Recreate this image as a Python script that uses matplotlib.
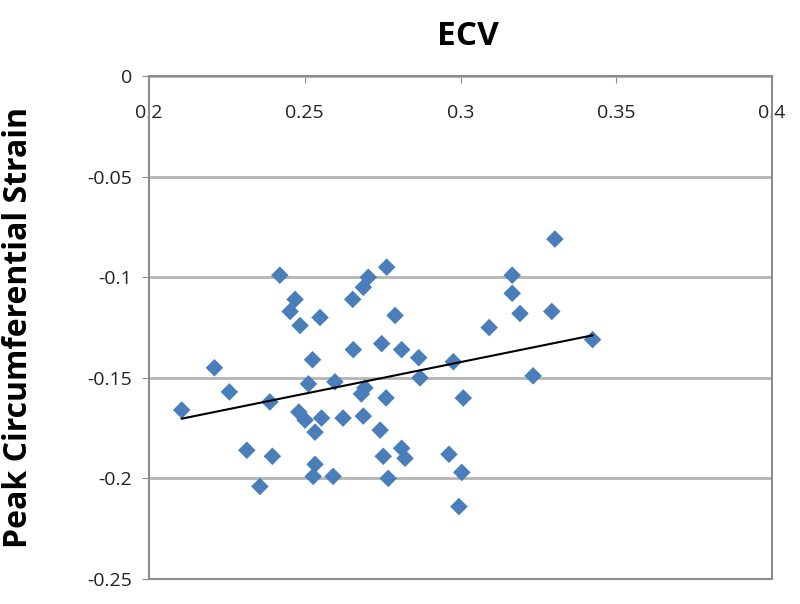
import numpy as np
import matplotlib
matplotlib.use("Agg")
import matplotlib.pyplot as plt

# ECV vs peak circumferential strain
ecv = [0.2105, 0.221, 0.2258, 0.2314, 0.2356, 0.2388, 0.2396, 0.242, 0.2469, 0.2453,
       0.2485, 0.2549, 0.2525, 0.2512, 0.2481, 0.2501, 0.2554, 0.2533, 0.2533, 0.2527,
       0.2591, 0.2597, 0.2623, 0.2654, 0.2688, 0.2704, 0.2763, 0.2656, 0.2747, 0.2693,
       0.2682, 0.2761, 0.2688, 0.2742, 0.2752, 0.2811, 0.2822, 0.2768, 0.279, 0.2811,
       0.2866, 0.287, 0.2977, 0.3009, 0.2963, 0.3004, 0.2995, 0.3092, 0.3166, 0.3166,
       0.3191, 0.3233, 0.3293, 0.3303, 0.3424]
strain = [-0.166, -0.145, -0.157, -0.186, -0.204, -0.162, -0.189, -0.099, -0.111, -0.117,
          -0.124, -0.120, -0.141, -0.153, -0.167, -0.171, -0.170, -0.177, -0.193, -0.199,
          -0.199, -0.152, -0.170, -0.111, -0.105, -0.100, -0.095, -0.136, -0.133, -0.155,
          -0.158, -0.160, -0.169, -0.176, -0.189, -0.185, -0.190, -0.200, -0.119, -0.136,
          -0.140, -0.150, -0.142, -0.160, -0.188, -0.197, -0.214, -0.125, -0.099, -0.108,
          -0.118, -0.149, -0.117, -0.081, -0.131]

xticks = [0.2, 0.25, 0.3, 0.35, 0.4]
yticks = [0, -0.05, -0.1, -0.15, -0.2, -0.25]

x = np.array(ecv)
y = np.array(strain)

# linear trend line like Excel
slope, intercept = np.polyfit(x, y, 1)
xt = np.array([x.min(), x.max()])
yt = slope * xt + intercept

plt.rcParams['font.family'] = ['Open Sans', 'DejaVu Sans']

fig = plt.figure(figsize=(8, 6.04), dpi=100)
ax = fig.add_axes([0.18625, 0.0414, 0.77875, 0.8326])

ax.scatter(x, y, marker='D', s=80, color='#4A7EBB', edgecolors='none', zorder=3)
ax.plot(xt, yt, color='black', lw=1.5, zorder=4)

ax.set_xlim(0.2, 0.4)
ax.set_ylim(-0.25, 0)
ax.set_xticks(xticks)
ax.set_xticklabels([f"{v:g}" for v in xticks])
ax.set_yticks(yticks)
ax.set_yticklabels([f"{v:g}" if v != 0 else "0" for v in yticks])

ax.yaxis.grid(True, color='#B4B4B4', lw=2)
ax.set_axisbelow(True)

for s in ax.spines.values():
    s.set_color('#8C8C8C')
    s.set_linewidth(1.5)

ax.tick_params(axis='x', top=True, bottom=False, labeltop=True, labelbottom=False,
               direction='in', length=5, color='#8C8C8C', pad=-33,
               labelsize=14, labelcolor='#222222')
ax.tick_params(axis='y', direction='out', length=5, color='#8C8C8C',
               labelsize=14, labelcolor='#222222', pad=7)

ax.set_ylabel("Peak Circumferential Strain", fontsize=23, fontweight='bold')
ax.yaxis.set_label_coords(-0.183, 0.5)
fig.text(0.585, 0.94, "ECV", fontsize=24, fontweight='bold', ha='center', va='center')

fig.savefig("out.png", dpi=100)
